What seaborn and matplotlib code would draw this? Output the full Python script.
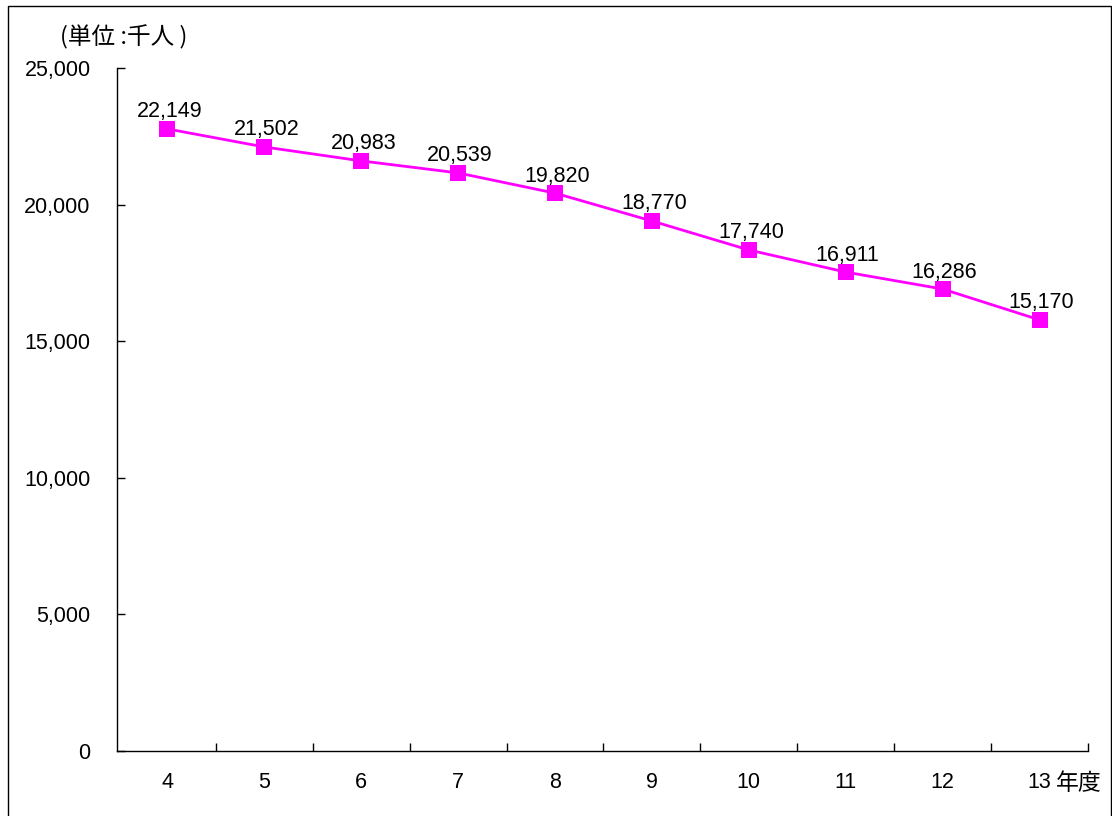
import matplotlib
matplotlib.use("Agg")
import numpy as np
import matplotlib.pyplot as plt
import matplotlib.patches as mpatches
from matplotlib.ticker import FuncFormatter, FixedLocator
import seaborn as sns

# 年度ごとの値（グラフ上の点の位置）と表示ラベル
years = ["4", "5", "6", "7", "8", "9", "10", "11", "12", "13"]
values = [22770, 22110, 21600, 21160, 20420, 19400, 18340, 17530, 16910, 15780]
labels = ["22,149", "21,502", "20,983", "20,539", "19,820",
          "18,770", "17,740", "16,911", "16,286", "15,170"]
y_ticks = [0, 5000, 10000, 15000, 20000, 25000]

sns.set_style("white")
plt.rcParams["font.family"] = ["Liberation Sans", "Noto Sans CJK JP", "DejaVu Sans"]
plt.rcParams["text.color"] = "black"
plt.rcParams["xtick.color"] = "black"
plt.rcParams["ytick.color"] = "black"
cjk = ["Noto Sans CJK JP", "DejaVu Sans"]
fs = 15.5

fig = plt.figure(figsize=(11.12, 8.16), dpi=100)
ax = fig.add_axes([117 / 1112, 1 - 751 / 816, (1088 - 117) / 1112, (751 - 68) / 816])

# 外枠
fig.patches.append(mpatches.Rectangle((8 / 1112, -0.01), 1103 / 1112, 1 - 6 / 816 + 0.01,
                                      transform=fig.transFigure, fill=False,
                                      edgecolor="black", linewidth=1.0))

x = np.arange(len(years))
sns.lineplot(x=x, y=values, ax=ax, color="#FF00FF", linewidth=2,
             marker="s", markersize=11, markeredgewidth=0, markerfacecolor="#FF00FF")

for xi, v, lab in zip(x, values, labels):
    ax.annotate(lab, (xi, v), xytext=(2, 17), textcoords="offset pixels",
                ha="center", va="center", fontsize=fs)

ax.set_xlim(-0.52, len(years) - 0.5)
ax.set_ylim(0, 25000)
ax.set_yticks(y_ticks)
ax.yaxis.set_major_formatter(FuncFormatter(lambda v, p: f"{int(v):,}"))
ax.tick_params(axis="y", direction="in", length=6, width=1, pad=19, labelsize=fs,
               left=True)
ax.set_xticks(x)
ax.set_xticklabels(years)
ax.xaxis.set_minor_locator(FixedLocator(np.arange(0.5, len(years), 1.0)))
ax.tick_params(axis="x", which="major", length=0, pad=15, labelsize=fs)
ax.tick_params(axis="x", which="minor", direction="in", length=6, width=1, bottom=True)

for s in ["top", "right"]:
    ax.spines[s].set_visible(False)
for s in ["left", "bottom"]:
    ax.spines[s].set_color("black")
    ax.spines[s].set_linewidth(1.0)
ax.set_xlabel("")
ax.set_ylabel("")

fig.text(60 / 1112, 1 - 37 / 816, "(単位 :千人 )", fontsize=17, family=cjk,
         ha="left", va="center")
fig.text(1056 / 1112, 1 - 784 / 816, "年度", fontsize=16.5, family=cjk,
         ha="left", va="center")

fig.savefig("out.png", dpi=100)
